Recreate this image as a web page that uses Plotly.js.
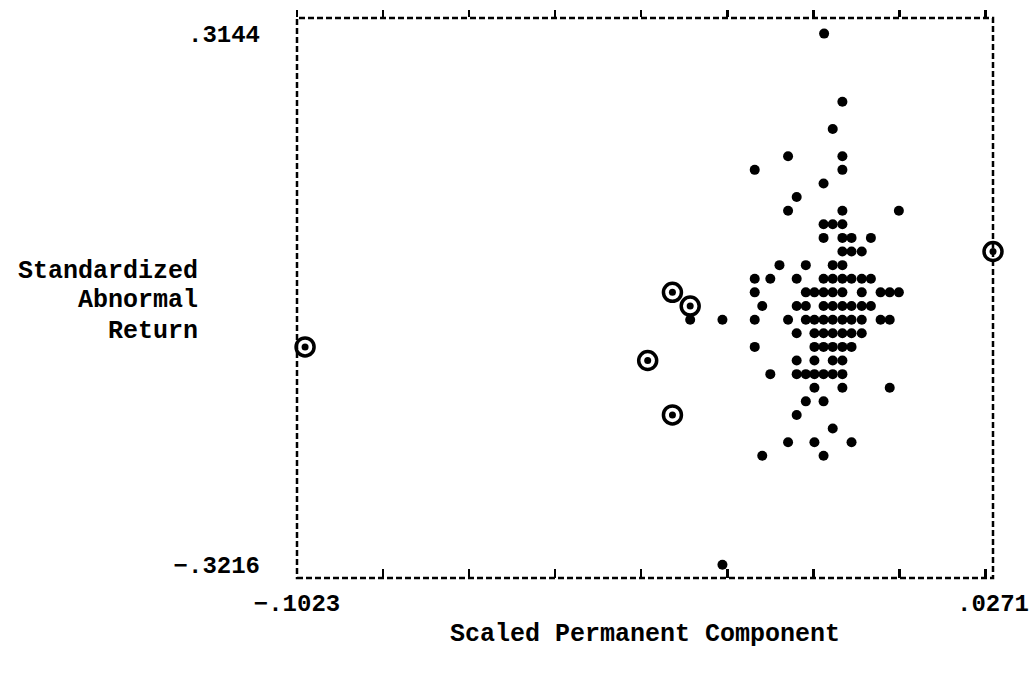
<!DOCTYPE html>
<html>
<head>
<meta charset="utf-8">
<script src="https://cdn.plot.ly/plotly-3.0.1.min.js"></script>
<style>
  html, body { margin: 0; padding: 0; background: #fff; }
  #chart { width: 1030px; height: 674px; }
</style>
</head>
<body>
<div id="chart"></div>
<script>
// ---- Data ----
const pointX = [
  -0.0043,
  -0.0009,
  -0.0027,
  -0.0110, -0.0009,
  -0.0172, -0.0009,
  -0.0044,
  -0.0094,
  -0.0110, -0.0009, 0.0096,
  -0.0044, -0.0027, -0.0009,
  -0.0044, -0.0009, 0.0008, 0.0044,
  -0.0009, 0.0008, 0.0027,
  -0.0126, -0.0077, -0.0027, -0.0009,
  -0.0172, -0.0143, -0.0094, -0.0044, -0.0027, -0.0009, 0.0008, 0.0027, 0.0044,
  -0.0172, -0.0077, -0.0061, -0.0044, -0.0027, -0.0009, 0.0027, 0.0062, 0.0079, 0.0096,
  -0.0158, -0.0094, -0.0077, -0.0044, -0.0027, -0.0009, 0.0008, 0.0027, 0.0044,
  -0.0292, -0.0232, -0.0172, -0.0110, -0.0077, -0.0061, -0.0044, -0.0027, -0.0009, 0.0008, 0.0027, 0.0062, 0.0079,
  -0.0094, -0.0061, -0.0044, -0.0027, -0.0009, 0.0008, 0.0027,
  -0.0172, -0.0061, -0.0044, -0.0027, -0.0009, 0.0008,
  -0.0094, -0.0061, -0.0027, -0.0009,
  -0.0143, -0.0094, -0.0077, -0.0061, -0.0044, -0.0027, -0.0009,
  -0.0061, -0.0009, 0.0079,
  -0.0077, -0.0044,
  -0.0094,
  -0.0027,
  -0.0110, -0.0061, 0.0008,
  -0.0158, -0.0044,
  -0.0232
];
const pointY = [
  0.3144,
  0.2329,
  0.2002,
  0.1676, 0.1676,
  0.1513, 0.1513,
  0.1350,
  0.1187,
  0.1024, 0.1024, 0.1024,
  0.0861, 0.0861, 0.0861,
  0.0698, 0.0698, 0.0698, 0.0698,
  0.0535, 0.0535, 0.0535,
  0.0372, 0.0372, 0.0372, 0.0372,
  0.0209, 0.0209, 0.0209, 0.0209, 0.0209, 0.0209, 0.0209, 0.0209, 0.0209,
  0.0046, 0.0046, 0.0046, 0.0046, 0.0046, 0.0046, 0.0046, 0.0046, 0.0046, 0.0046,
  -0.0118, -0.0118, -0.0118, -0.0118, -0.0118, -0.0118, -0.0118, -0.0118, -0.0118,
  -0.0281, -0.0281, -0.0281, -0.0281, -0.0281, -0.0281, -0.0281, -0.0281, -0.0281, -0.0281, -0.0281, -0.0281, -0.0281,
  -0.0444, -0.0444, -0.0444, -0.0444, -0.0444, -0.0444, -0.0444,
  -0.0607, -0.0607, -0.0607, -0.0607, -0.0607, -0.0607,
  -0.0770, -0.0770, -0.0770, -0.0770,
  -0.0933, -0.0933, -0.0933, -0.0933, -0.0933, -0.0933, -0.0933,
  -0.1096, -0.1096, -0.1096,
  -0.1259, -0.1259,
  -0.1422,
  -0.1585,
  -0.1748, -0.1748, -0.1748,
  -0.1911, -0.1911,
  -0.3216
];
const circledX = [-0.1008, -0.0325, -0.0292, -0.0371, -0.0325, 0.0271];
const circledY = [-0.0607, 0.0046, -0.0118, -0.0770, -0.1422, 0.0535];

const xTickVals = [-0.1023, -0.0863, -0.0703, -0.0543, -0.0383, -0.0223, -0.0063, 0.0097, 0.0257, 0.0271];
const xTickText = ['\u2212.1023', '', '', '', '', '', '', '', '', '.0271'];
const yTickVals = [0.3144, -0.3216];
const yTickText = ['.3144', '\u2212.3216'];
const xTitle = 'Scaled Permanent Component';
const yTitleLines = ['Standardized', 'Abnormal', 'Return'];

// ---- Styling ----
const FONT = '"Courier New", "Liberation Mono", "DejaVu Sans Mono", monospace';
const black = '#000';
const xRange = [-0.1023, 0.0271];

const traces = [
  {
    x: pointX, y: pointY, type: 'scatter', mode: 'markers',
    marker: { symbol: 'circle', size: 10, color: black },
    cliponaxis: false, hoverinfo: 'x+y'
  },
  {
    x: circledX, y: circledY, type: 'scatter', mode: 'markers',
    marker: { symbol: 'circle-open', size: 18, color: black, line: { width: 3.5, color: black } },
    cliponaxis: false, hoverinfo: 'skip'
  },
  {
    x: circledX, y: circledY, type: 'scatter', mode: 'markers',
    marker: { symbol: 'circle', size: 7, color: black },
    cliponaxis: false, hoverinfo: 'x+y'
  },
  {
    // carries the top tick axis (invisible duplicate of the circled points)
    x: circledX, y: circledY, xaxis: 'x2', yaxis: 'y', type: 'scatter', mode: 'markers',
    marker: { size: 1, opacity: 0 }, hoverinfo: 'skip'
  }
];

const layout = {
  width: 1030, height: 674,
  margin: { l: 297, r: 37, t: 18, b: 96 },
  paper_bgcolor: '#fff', plot_bgcolor: '#fff',
  showlegend: false,
  font: { family: FONT, size: 24, color: black, weight: 'bold' },
  xaxis: {
    range: xRange,
    tickmode: 'array', tickvals: xTickVals, ticktext: xTickText,
    ticks: 'inside', ticklen: 9, tickwidth: 2.5, tickcolor: black,
    showline: false, showgrid: false, zeroline: false,
    ticklabelstandoff: 8,
    tickfont: { family: FONT, size: 24, color: black, weight: 'bold' },
    title: { text: xTitle, font: { family: FONT, size: 25, color: black, weight: 'bold' }, standoff: 6 }
  },
  xaxis2: {
    range: xRange, overlaying: 'x', anchor: 'y', side: 'top',
    tickmode: 'linear', tick0: xTickVals[0], dtick: xTickVals[1] - xTickVals[0],
    ticks: 'outside', ticklen: 7, tickwidth: 2.5, tickcolor: black,
    showline: false, showgrid: false, zeroline: false, showticklabels: false
  },
  yaxis: {
    range: [-0.3374, 0.3331],
    tickmode: 'array', tickvals: yTickVals, ticktext: yTickText,
    ticks: '', showline: false, showgrid: false, zeroline: false,
    ticklabelstandoff: 36,
    tickfont: { family: FONT, size: 24, color: black, weight: 'bold' }
  },
  shapes: [
    {
      type: 'rect', xref: 'paper', yref: 'paper', x0: 0, x1: 1, y0: 0, y1: 1,
      line: { color: black, width: 2.5, dash: '6px,3px' }, layer: 'below'
    }
  ],
  annotations: yTitleLines.map((t, i) => ({
    text: t, xref: 'paper', yref: 'paper', x: -0.139, xanchor: 'right',
    y: [0.548, 0.495, 0.441][i], yanchor: 'middle', showarrow: false,
    font: { family: FONT, size: 25, color: black, weight: 'bold' }
  }))
};

Plotly.newPlot('chart', traces, layout, { staticPlot: true, displayModeBar: false });
</script>
</body>
</html>
